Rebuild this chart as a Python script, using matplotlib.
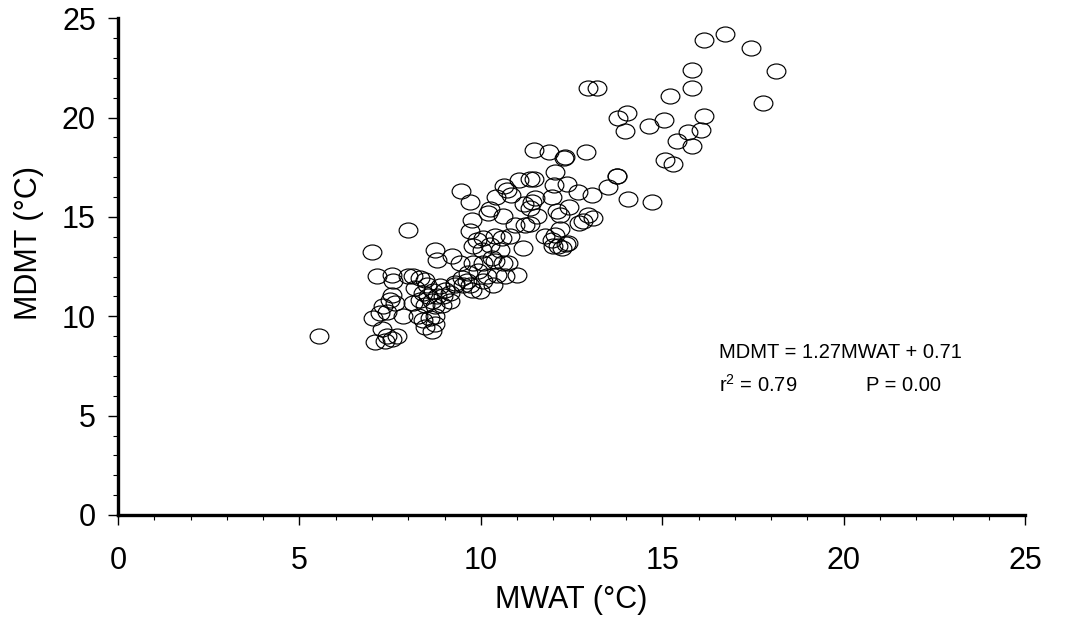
import numpy as np
import matplotlib
matplotlib.use("Agg")
import matplotlib.pyplot as plt
from matplotlib.path import Path
from matplotlib.ticker import MultipleLocator

plt.rcParams['font.family'] = ['Liberation Sans', 'DejaVu Sans']
plt.rcParams['mathtext.fontset'] = 'custom'
plt.rcParams['mathtext.rm'] = 'Liberation Sans'

# =========================
# Data
# =========================
mwat = [
    16.15, 16.73, 17.45, 18.14, 17.78, 15.82, 15.82, 15.22, 16.15, 15.05,
    14.64, 16.07, 15.71, 15.41, 15.82, 15.08, 15.30, 14.03, 13.78, 13.97,
    12.96, 13.20, 12.90, 12.32, 13.75, 13.75, 13.51, 14.06, 14.72, 11.47,
    11.88, 12.29, 12.05, 12.02, 12.38, 12.68, 13.07, 11.05, 11.36, 11.47,
    10.64, 10.72, 10.83, 10.42, 9.45, 9.70, 10.25, 10.61, 11.19, 11.41,
    11.49, 11.36, 11.55, 11.96, 12.10, 12.43, 12.18, 12.71, 12.96, 13.09,
    12.82, 12.18, 12.05, 11.77, 11.96, 12.13, 12.35, 12.24, 12.40, 11.99,
    11.22, 11.36, 11.16, 9.76, 9.70, 10.20, 10.94, 8.74, 8.79, 9.21,
    9.43, 9.90, 10.06, 10.39, 10.58, 10.81, 9.79, 10.03, 10.25, 10.53,
    10.31, 10.39, 10.61, 10.75, 10.06, 9.79, 9.65, 9.92, 10.17, 10.45,
    10.67, 11.00, 9.62, 9.70, 9.76, 9.51, 9.29, 9.15, 8.68, 8.79,
    8.96, 9.15, 8.93, 8.74, 8.74, 10.06, 10.34, 9.98, 7.14, 7.55,
    7.58, 7.99, 8.13, 8.32, 8.46, 8.52, 8.19, 8.88, 9.01, 9.29,
    9.48, 7.55, 7.50, 7.64, 7.30, 7.41, 7.22, 7.86, 7.03, 8.41,
    8.54, 8.66, 8.32, 8.13, 8.46, 8.27, 8.41, 8.60, 8.74, 8.46,
    8.66, 7.28, 7.41, 7.55, 7.08, 7.36, 7.69, 7.00, 7.99, 5.54,
]
mdmt = [
    23.88, 24.19, 23.48, 22.36, 20.74, 22.41, 21.50, 21.10, 20.08, 19.88,
    19.57, 19.37, 19.27, 18.81, 18.56, 17.85, 17.65, 20.23, 19.98, 19.32,
    21.50, 21.50, 18.26, 18.00, 17.04, 17.04, 16.53, 15.92, 15.77, 18.36,
    18.26, 17.95, 17.24, 16.63, 16.68, 16.23, 16.08, 16.84, 16.89, 16.89,
    16.58, 16.33, 16.08, 16.02, 16.28, 15.77, 15.42, 15.06, 15.67, 15.77,
    15.97, 15.47, 15.06, 16.02, 15.31, 15.52, 15.11, 14.71, 15.11, 14.96,
    14.81, 14.40, 14.10, 14.05, 13.84, 13.54, 13.64, 13.44, 13.69, 13.54,
    14.60, 14.66, 13.44, 14.86, 14.30, 15.21, 14.60, 13.34, 12.83, 13.03,
    12.68, 13.84, 13.95, 14.05, 13.95, 14.05, 13.54, 13.34, 13.59, 13.34,
    12.93, 12.78, 12.68, 12.68, 12.68, 12.68, 12.17, 12.27, 12.02, 12.07,
    12.02, 12.07, 11.76, 11.56, 11.31, 11.56, 11.56, 11.16, 11.26, 11.00,
    11.00, 10.75, 10.55, 10.50, 9.99, 11.76, 11.56, 11.26, 12.02, 12.07,
    11.76, 12.02, 12.02, 11.92, 11.82, 11.56, 11.41, 11.51, 11.31, 11.66,
    11.92, 11.05, 10.80, 10.65, 10.50, 10.24, 10.14, 9.99, 9.89, 11.16,
    11.00, 10.75, 10.80, 10.65, 10.55, 9.99, 9.79, 9.89, 9.63, 9.48,
    9.28, 9.38, 9.03, 8.87, 8.72, 8.77, 9.03, 13.24, 14.35, 9.03,
]

x_ticks = [0, 5, 10, 15, 20, 25]
y_ticks = [0, 5, 10, 15, 20, 25]
eq_text = "MDMT = 1.27MWAT + 0.71"
r2_text = "r$^\\mathregular{2}$ = 0.79"
p_text = "P = 0.00"

# =========================
# Ellipse marker (wider than tall)
# =========================
circ = Path.unit_circle()
ellipse = Path(circ.vertices * np.array([1.0, 0.8]), circ.codes)

# =========================
# Plot
# =========================
fig = plt.figure(figsize=(10.76, 6.21), dpi=100)
ax = fig.add_axes([0.1097, 0.1707, 0.843, 0.800])

ax.plot(mwat, mdmt, linestyle='none', marker=ellipse, markersize=13.5,
        markerfacecolor='none', markeredgecolor='black', markeredgewidth=0.85)

ax.set_xlim(0, 25)
ax.set_ylim(0, 25)
ax.set_xticks(x_ticks)
ax.set_yticks(y_ticks)
ax.xaxis.set_minor_locator(MultipleLocator(1))
ax.yaxis.set_minor_locator(MultipleLocator(1))

for s in ['top', 'right']:
    ax.spines[s].set_visible(False)
for s in ['left', 'bottom']:
    ax.spines[s].set_linewidth(2.4)

ax.tick_params(which='major', direction='out', length=7, width=1.0,
               labelsize=22)
ax.tick_params(which='minor', direction='out', length=3.5, width=0.8)
ax.tick_params(axis='x', which='major', pad=15)
ax.tick_params(axis='y', which='major', pad=9)

ax.set_xlabel("MWAT (\u00b0C)", fontsize=22)
ax.set_ylabel("MDMT (\u00b0C)", fontsize=22)
ax.xaxis.set_label_coords(0.5, -0.14)
ax.yaxis.set_label_coords(-0.082, 0.547)

ax.text(16.57, 8.16, eq_text, fontsize=14.5, va='center', ha='left')
ax.text(16.57, 6.54, r2_text, fontsize=14.5, va='center', ha='left')
ax.text(20.62, 6.54, p_text, fontsize=14.5, va='center', ha='left')

fig.savefig("out.png", dpi=100)
